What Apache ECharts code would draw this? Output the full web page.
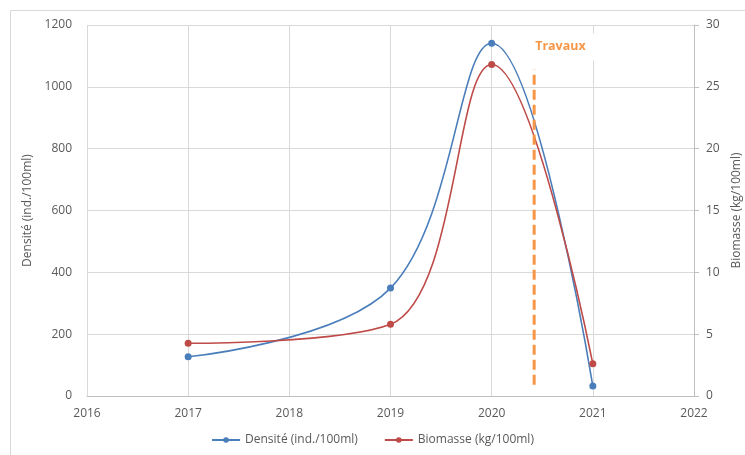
<!DOCTYPE html>
<html><head><meta charset="utf-8">
<script src="https://cdn.jsdelivr.net/npm/echarts@6/dist/echarts.min.js"></script>
<style>html,body{margin:0;padding:0;background:#fff}#c{width:745px;height:455px}</style>
</head><body><div id="c"></div>
<script>
const years = [2017, 2019, 2020, 2021];
const densite = [127, 349, 1141, 32];
const biomasse = [4.26, 5.8, 26.8, 2.6];
const travauxX = 2020.42;
const travauxY = [0.9, 26.4];
const travauxLabel = 'Travaux';
const xTicks = [2016, 2017, 2018, 2019, 2020, 2021, 2022];

const txt = '#595959';
const font = '"Open Sans", "Liberation Sans", sans-serif';
const chart = echarts.init(document.getElementById('c'));
chart.setOption({
  animation: false,
  textStyle: {fontFamily: font},
  graphic: [{type: 'rect', shape: {x: 10.5, y: 10.5, width: 760, height: 470}, style: {fill: 'none', stroke: '#d9d9d9', lineWidth: 1}, silent: true, z: -1}],
  grid: {left: 87, right: 51, top: 25, bottom: 59, outerBoundsMode: 'none', containLabel: false},
  legend: {
    data: ['Densité (ind./100ml)', 'Biomasse (kg/100ml)'],
    bottom: 4, left: 'center', itemGap: 26, itemWidth: 28, itemHeight: 7,
    textStyle: {color: txt, fontSize: 12, fontFamily: font}
  },
  xAxis: {
    type: 'value', min: xTicks[0], max: xTicks[xTicks.length - 1], interval: 1,
    axisLine: {show: true, lineStyle: {color: '#bfbfbf'}},
    axisTick: {show: false},
    splitLine: {show: true, lineStyle: {color: '#d9d9d9'}},
    axisLabel: {color: txt, fontSize: 12, margin: 12, formatter: v => String(v)}
  },
  yAxis: [{
    type: 'value', min: 0, max: 1200, interval: 200,
    name: 'Densité (ind./100ml)', nameLocation: 'middle', nameGap: 48, nameRotate: 90,
    nameTextStyle: {color: txt, fontSize: 12},
    axisLine: {show: false}, axisTick: {show: false},
    splitLine: {lineStyle: {color: '#d9d9d9'}},
    axisLabel: {color: txt, fontSize: 12, margin: 15, formatter: v => String(v)}
  }, {
    type: 'value', min: 0, max: 30, interval: 5, position: 'right',
    name: 'Biomasse (kg/100ml)', nameLocation: 'middle', nameGap: 35, nameRotate: 90,
    nameTextStyle: {color: txt, fontSize: 12},
    axisLine: {show: true, lineStyle: {color: '#bfbfbf'}},
    axisTick: {show: true, length: 5, lineStyle: {color: '#bfbfbf'}},
    splitLine: {show: false},
    axisLabel: {color: txt, fontSize: 12, margin: 12, formatter: v => String(v)}
  }],
  series: [{
    name: 'Densité (ind./100ml)', type: 'line', yAxisIndex: 0, smooth: 0.38,
    data: years.map((y, i) => [y, densite[i]]),
    symbol: 'circle', symbolSize: 7,
    itemStyle: {color: '#4a7ebb'}, lineStyle: {color: '#4a7ebb', width: 1.6}
  }, {
    name: 'Biomasse (kg/100ml)', type: 'line', yAxisIndex: 1, smooth: 0.38,
    data: years.map((y, i) => [y, biomasse[i]]),
    symbol: 'circle', symbolSize: 7,
    itemStyle: {color: '#be4b48'}, lineStyle: {color: '#be4b48', width: 1.6}
  }, {
    name: 'travaux', type: 'line', yAxisIndex: 1, z: 5,
    data: [[travauxX, travauxY[0]], [travauxX, travauxY[1]]],
    symbol: 'none', showSymbol: false,
    lineStyle: {color: '#f79646', width: 3, type: [10, 5]},
    markPoint: {
      symbol: 'circle', symbolSize: 0,
      data: [{coord: [travauxX, travauxY[1]], value: travauxLabel}],
      label: {
        show: true, formatter: travauxLabel, position: 'top', align: 'left', offset: [-1, -4],
        color: '#f79646', fontWeight: 'bold', fontSize: 12.5, fontFamily: font,
        backgroundColor: '#fff', padding: [6, 10, 8, 2]
      }
    },
    silent: true
  }]
});
</script></body></html>
